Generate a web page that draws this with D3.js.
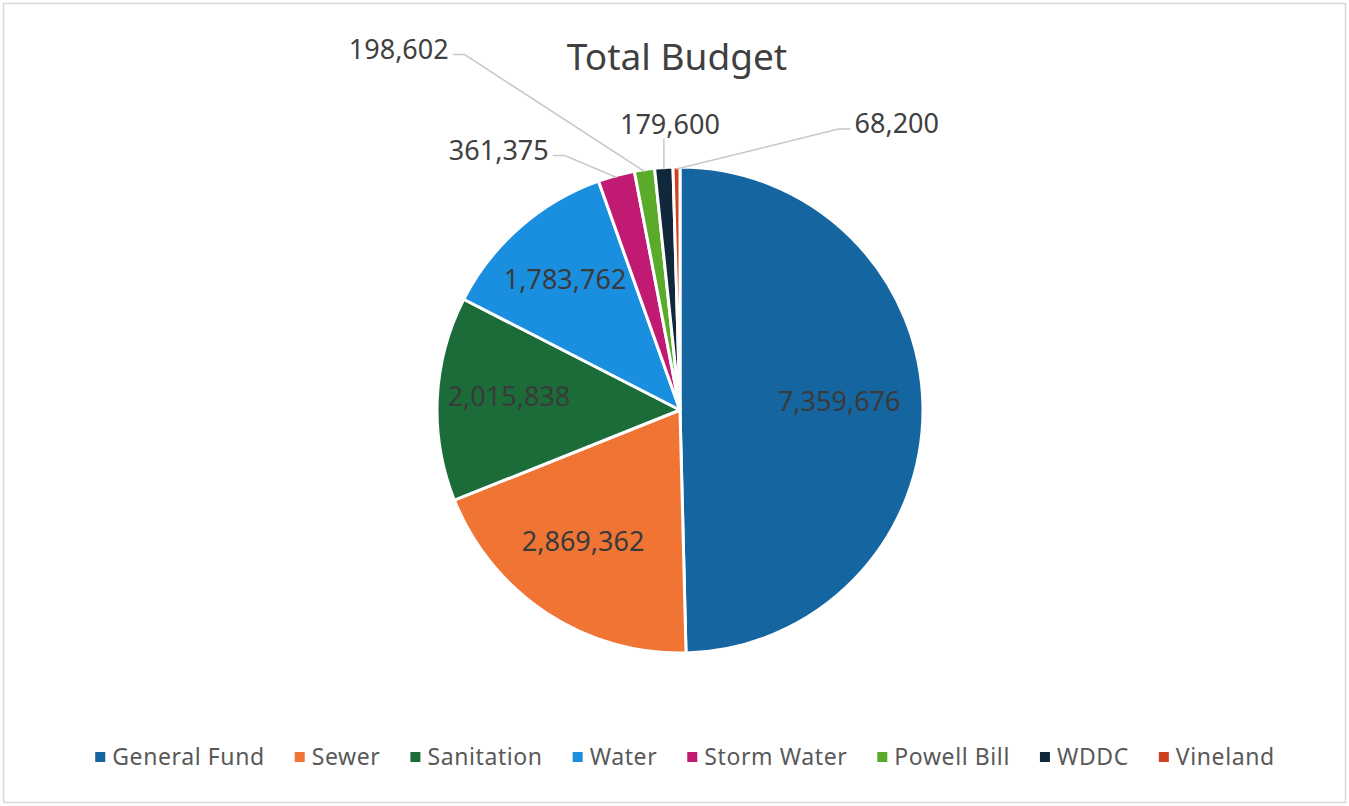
<!DOCTYPE html>
<html>
<head>
<meta charset="utf-8">
<script src="https://cdn.jsdelivr.net/npm/d3@7"></script>
<style>
  body { margin: 0; background: #fff; }
  text { font-family: "Noto Sans", sans-serif; }
</style>
</head>
<body>
<div id="chart"></div>
<script>
// data
const categories = ['General Fund', 'Sewer', 'Sanitation', 'Water', 'Storm Water', 'Powell Bill', 'WDDC', 'Vineland'];
const values = [7359676, 2869362, 2015838, 1783762, 361375, 198602, 179600, 68200];
const colors = ['#1565a0', '#f07535', '#1b6c38', '#1a8fe0', '#c01a72', '#5aab2a', '#10283a', '#d0401e'];
const title = 'Total Budget';

const width = 1349, height = 806;
const cx = 680, cy = 410, radius = 243;

// callout placement for the small slices, relative to the slice edge
const callouts = {
  'Storm Water': { dx: -68, dy: -27, anchor: 'end' },
  'Powell Bill': { dx: -196, dy: -122, anchor: 'end' },
  'WDDC': { dx: 6, dy: -45, anchor: 'middle' },
  'Vineland': { dx: 178, dy: -45, anchor: 'start' }
};

const data = categories.map((c, i) => ({ name: c, value: values[i], color: colors[i] }));
const fmt = d3.format(',');

const svg = d3.select('#chart')
  .append('svg')
  .attr('width', width)
  .attr('height', height);

// chart frame
svg.append('rect')
  .attr('x', 3.5).attr('y', 3.5)
  .attr('width', width - 7).attr('height', height - 7)
  .attr('fill', '#fff')
  .attr('stroke', '#d9d9d9')
  .attr('stroke-width', 1.5);

svg.append('text')
  .attr('x', 677)
  .attr('y', 70)
  .attr('text-anchor', 'middle')
  .style('font-size', '37px')
  .style('fill', '#404040')
  .text(title);

const pie = d3.pie().sort(null).value(d => d.value);
const arc = d3.arc().innerRadius(0).outerRadius(radius);
const labelArc = d3.arc().innerRadius(radius * 0.68).outerRadius(radius * 0.68);

const g = svg.append('g').attr('transform', `translate(${cx}, ${cy})`);
const arcs = pie(data);

g.selectAll('path.slice')
  .data(arcs)
  .enter()
  .append('path')
  .attr('class', 'slice')
  .attr('d', arc)
  .attr('fill', d => d.data.color)
  .attr('stroke', '#fff')
  .attr('stroke-width', 3)
  .attr('stroke-linejoin', 'round');

// inside labels
g.selectAll('text.inside')
  .data(arcs.filter(d => !callouts[d.data.name]))
  .enter()
  .append('text')
  .attr('class', 'inside')
  .attr('transform', d => {
    const [x, y] = labelArc.centroid(d);
    return `translate(${x - 6}, ${y - 6})`;
  })
  .attr('text-anchor', 'middle')
  .attr('dy', '0.35em')
  .style('font-size', '27px')
  .style('fill', '#3a3a3a')
  .text(d => fmt(d.data.value));

// outside labels with leader lines
const outer = arcs.filter(d => callouts[d.data.name]);
outer.forEach(d => {
  const mid = (d.startAngle + d.endAngle) / 2;
  const ex = Math.sin(mid) * (radius - 2);
  const ey = -Math.cos(mid) * (radius - 2);
  const c = callouts[d.data.name];
  const lx = ex + c.dx, ly = ey + c.dy;
  let pts;
  if (c.anchor === 'middle') {
    pts = [[ex, ey], [ex, ly + 14]];
  } else {
    const dir = c.anchor === 'end' ? 1 : -1;
    pts = [[ex, ey], [lx + dir * 16, ly + 5], [lx + dir * 4, ly + 5]];
  }
  g.append('path')
    .attr('d', d3.line()(pts))
    .attr('fill', 'none')
    .attr('stroke', '#c8c8c8')
    .attr('stroke-width', 1.5);
  g.append('text')
    .attr('x', lx)
    .attr('y', ly)
    .attr('text-anchor', c.anchor)
    .attr('dy', '0.35em')
    .style('font-size', '27px')
    .style('fill', '#404040')
    .text(fmt(d.data.value));
});

// legend
const legend = svg.append('g').attr('transform', 'translate(0, 757)');
const items = legend.selectAll('g.item')
  .data(data)
  .enter()
  .append('g')
  .attr('class', 'item');

items.append('rect')
  .attr('width', 10)
  .attr('height', 10)
  .attr('y', -5)
  .attr('fill', d => d.color);

items.append('text')
  .attr('x', 17)
  .attr('dy', '0.35em')
  .style('font-size', '23px')
  .style('letter-spacing', '0.6px')
  .style('fill', '#595959')
  .text(d => d.name);

let pos = 0;
const gap = 30;
const offsets = [];
items.each(function () {
  offsets.push(pos);
  pos += this.getBBox().width + gap;
});
const total = pos - gap;
const startX = 685 - total / 2;
items.attr('transform', (d, i) => `translate(${startX + offsets[i]}, 0)`);
</script>
</body>
</html>
